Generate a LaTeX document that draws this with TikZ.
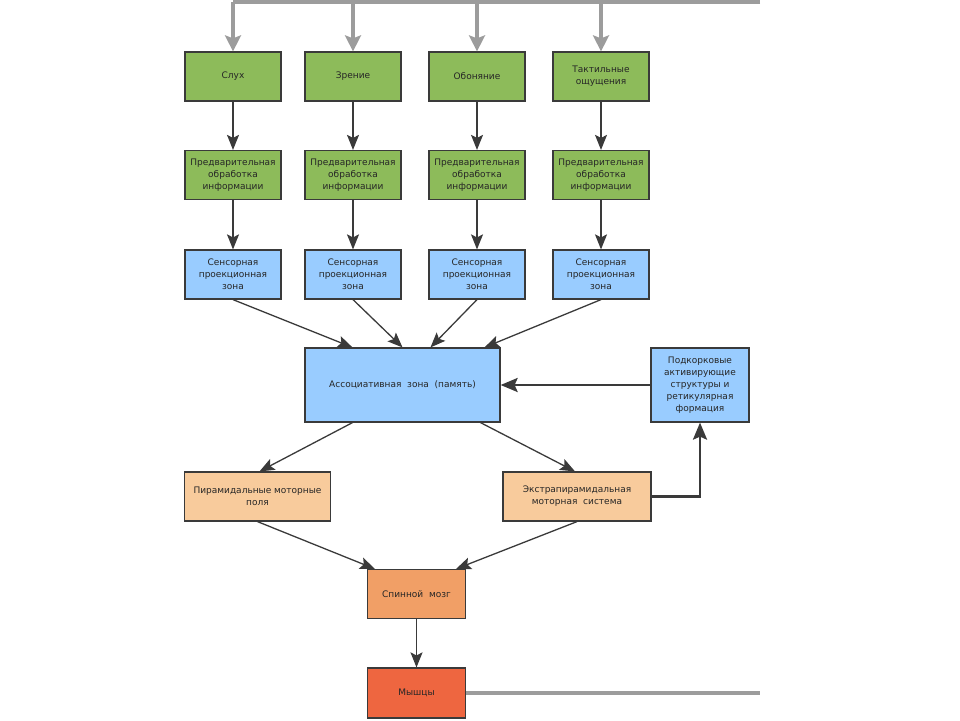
\documentclass[tikz,border=0pt]{standalone}
\usepackage{fontspec}
\setmainfont{DejaVu Sans}
\usetikzlibrary{arrows.meta}

\definecolor{sensegreen}{HTML}{8DBB5A}
\definecolor{zoneblue}{HTML}{99CCFF}
\definecolor{motortan}{HTML}{F8CB9C}
\definecolor{spinalorange}{HTML}{F19F66}
\definecolor{musclered}{HTML}{EE6640}
\definecolor{linedark}{HTML}{3A3A3A}
\definecolor{busgray}{HTML}{9C9C9C}

\tikzset{
  box/.style={draw=linedark, line width=1.2pt, align=center, inner sep=0.5pt,
    minimum width=96pt, minimum height=49pt, text=black!85,
    font=\fontsize{9}{12}\selectfont},
  sensebox/.style={box, fill=sensegreen},
  zonebox/.style={box, fill=zoneblue},
  motorbox/.style={box, fill=motortan, minimum width=146pt},
  flow/.style={draw=linedark, line width=1.3pt, -{Stealth[length=15pt,width=12pt,inset=3pt]}},
  feedback/.style={draw=linedark, line width=2.6pt, -{Stealth[length=17pt,width=14pt,inset=3pt]}},
  bus/.style={draw=busgray, line width=4.5pt},
  busarrow/.style={bus, -{Stealth[length=16pt,width=16pt,inset=3pt]}},
}

\begin{document}
\begin{tikzpicture}[x=1pt,y=-1pt]
\useasboundingbox (0,0) rectangle (960,720);

% senses
\node[sensebox] (hearing) at (233,76.5) {Слух};
\node[sensebox] (vision) at (353,76.5) {Зрение};
\node[sensebox] (smell) at (477,76.5) {Обоняние};
\node[sensebox] (touch) at (601,76.5) {Тактильные\\ощущения};

% preliminary processing
\node[sensebox] (pre1) at (233,175) {Предварительная\\обработка\\информации};
\node[sensebox] (pre2) at (353,175) {Предварительная\\обработка\\информации};
\node[sensebox] (pre3) at (477,175) {Предварительная\\обработка\\информации};
\node[sensebox] (pre4) at (601,175) {Предварительная\\обработка\\информации};

% sensory projection zones
\node[zonebox] (proj1) at (233,274.5) {Сенсорная\\проекционная\\зона};
\node[zonebox] (proj2) at (353,274.5) {Сенсорная\\проекционная\\зона};
\node[zonebox] (proj3) at (477,274.5) {Сенсорная\\проекционная\\зона};
\node[zonebox] (proj4) at (601,274.5) {Сенсорная\\проекционная\\зона};

\node[zonebox, minimum width=195pt, minimum height=74pt] (assoc) at (402.5,385) {Ассоциативная\ \ зона\ \ (память)};
\node[zonebox, minimum width=98pt, minimum height=74pt] (subcort) at (700,385)
  {Подкорковые\\активирующие\\структуры и\\ретикулярная\\формация};

% motor systems
\node[motorbox] (pyramid) at (257.5,496.5) {Пирамидальные моторные\\поля};
\node[motorbox, minimum width=148pt] (extrapyr) at (577,496.5) {Экстрапирамидальная\\моторная\ \ система};

\node[box, fill=spinalorange, minimum width=98pt] (spinal) at (416.5,594) {Спинной\ \ мозг};
\node[box, fill=musclered, minimum width=98pt, minimum height=50pt] (muscles) at (416.5,693) {Мышцы};

% loop back from the muscles (leaves the frame on the right)
\coordinate (busL) at (233,2);
\coordinate (busR) at (760,2);
\coordinate (outR) at (760,693);
\draw[bus] (busR) -- (busL);
\draw[busarrow] (busL) -- (hearing.north);
\draw[busarrow] (vision.north |- busL) -- (vision.north);
\draw[busarrow] (smell.north |- busL) -- (smell.north);
\draw[busarrow] (touch.north |- busL) -- (touch.north);
\draw[bus] (muscles.east) -- (outR);

\draw[flow] (hearing) -- (pre1);
\draw[flow] (vision) -- (pre2);
\draw[flow] (smell) -- (pre3);
\draw[flow] (touch) -- (pre4);

\draw[flow] (pre1) -- (proj1);
\draw[flow] (pre2) -- (proj2);
\draw[flow] (pre3) -- (proj3);
\draw[flow] (pre4) -- (proj4);

\draw[flow] (proj1.south) -- ([xshift=-50pt]assoc.north);
\draw[flow] (proj2.south) -- (assoc.north);
\draw[flow] (proj3.south) -- ([xshift=28pt]assoc.north);
\draw[flow] (proj4.south) -- ([xshift=82pt]assoc.north);

\draw[flow] ([xshift=-50pt]assoc.south) -- ([xshift=2pt]pyramid.north);
\draw[flow] ([xshift=78pt]assoc.south) -- ([xshift=-2pt]extrapyr.north);
\draw[flow] (pyramid.south) -- ([xshift=8pt]spinal.north west);
\draw[flow] (extrapyr.south) -- ([xshift=-10pt]spinal.north east);
\draw[flow] (spinal) -- (muscles);

\draw[feedback] (extrapyr.east) -| (subcort.south);
\draw[feedback] (subcort.west) -- (assoc.east);
\end{tikzpicture}
\end{document}
